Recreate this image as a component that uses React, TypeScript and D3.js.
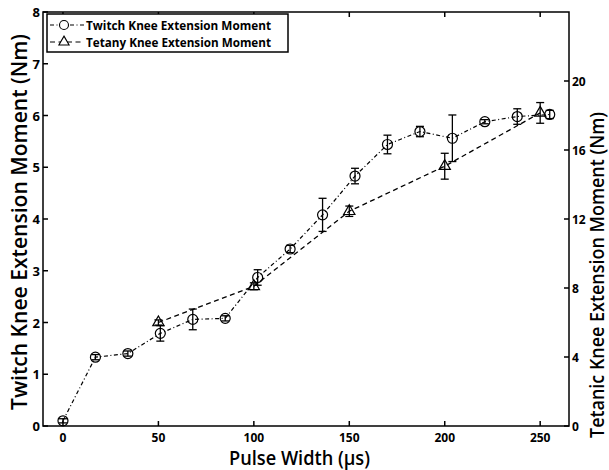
import React, { useEffect, useRef } from "react";
import * as d3 from "d3";

// twitch: circles, left axis
const twitchX = [0, 17, 34, 51, 68, 85, 102, 119, 136, 153, 170, 187, 204, 221, 238, 255];
const twitchY = [0.1, 1.33, 1.4, 1.79, 2.06, 2.08, 2.87, 3.42, 4.08, 4.83, 5.44, 5.69, 5.56, 5.88, 5.98, 6.02];
const twitchErr = [0.04, 0.05, 0.05, 0.15, 0.2, 0.05, 0.15, 0.07, 0.32, 0.15, 0.18, 0.1, 0.45, 0.04, 0.15, 0.08];

// tetany: triangles, right axis
const tetX = [50, 100, 150, 200, 250];
const tetY = [6.0, 8.1, 12.45, 15.06, 18.15];
const tetErr = [0.15, 0.2, 0.3, 0.75, 0.6];

const xTicks = [0, 50, 100, 150, 200, 250];
const leftTicks = [0, 1, 2, 3, 4, 5, 6, 7, 8];
const rightTicks = [0, 4, 8, 12, 16, 20];

const W = 609, H = 470;
const m = { left: 43, right: 40, top: 12, bottom: 44 };
const font = "'Open Sans', 'DejaVu Sans', sans-serif";

export default function App() {
    const ref = useRef<SVGSVGElement>(null);

    useEffect(() => {
        const svg = d3.select(ref.current);
        svg.selectAll("*").remove();

        const x = d3.scaleLinear().domain([-10.46, 265.1]).range([m.left, W - m.right]);
        const yL = d3.scaleLinear().domain([0, 8]).range([H - m.bottom, m.top]);
        const yR = d3.scaleLinear().domain([0, 24]).range([H - m.bottom, m.top]);

        const g = svg.append("g");

        // frame
        g.append("rect")
            .attr("x", m.left).attr("y", m.top)
            .attr("width", W - m.left - m.right).attr("height", H - m.top - m.bottom)
            .attr("fill", "none").attr("stroke", "#000").attr("stroke-width", 1.5);

        const tl = 5;
        // bottom + top ticks
        xTicks.forEach(t => {
            g.append("line").attr("x1", x(t)).attr("x2", x(t))
                .attr("y1", H - m.bottom).attr("y2", H - m.bottom - tl)
                .attr("stroke", "#000").attr("stroke-width", 1.5);
            g.append("line").attr("x1", x(t)).attr("x2", x(t))
                .attr("y1", m.top).attr("y2", m.top + tl)
                .attr("stroke", "#000").attr("stroke-width", 1.5);
            g.append("text").attr("x", x(t)).attr("y", H - m.bottom + 16)
                .attr("text-anchor", "middle").attr("font-size", 12).attr("font-weight", "bold")
                .attr("font-family", font).text(t);
        });
        leftTicks.forEach(t => {
            g.append("line").attr("x1", m.left).attr("x2", m.left + tl)
                .attr("y1", yL(t)).attr("y2", yL(t))
                .attr("stroke", "#000").attr("stroke-width", 1.5);
            g.append("text").attr("x", m.left - 3).attr("y", yL(t) + 5)
                .attr("text-anchor", "end").attr("font-size", 13).attr("font-weight", "bold")
                .attr("font-family", font).text(t);
        });
        rightTicks.forEach(t => {
            g.append("line").attr("x1", W - m.right).attr("x2", W - m.right - tl)
                .attr("y1", yR(t)).attr("y2", yR(t))
                .attr("stroke", "#000").attr("stroke-width", 1.5);
            g.append("text").attr("x", W - m.right + 3).attr("y", yR(t) + 5)
                .attr("text-anchor", "start").attr("font-size", 12).attr("font-weight", "bold")
                .attr("font-family", font).text(t);
        });

        // axis titles
        g.append("text").attr("x", 229).attr("y", 465)
            .attr("font-size", 19).attr("font-weight", 600)
            .attr("textLength", 141).attr("lengthAdjust", "spacingAndGlyphs")
            .attr("font-family", font).text("Pulse Width (µs)");
        g.append("text").attr("transform", `translate(27,410) rotate(-90)`)
            .attr("font-size", 21).attr("font-weight", 600)
            .attr("textLength", 376).attr("lengthAdjust", "spacingAndGlyphs")
            .attr("font-family", font).text("Twitch Knee Extension Moment (Nm)");
        g.append("text").attr("transform", `translate(604,438) rotate(-90)`)
            .attr("font-size", 19).attr("font-weight", 600)
            .attr("textLength", 326).attr("lengthAdjust", "spacingAndGlyphs")
            .attr("font-family", font).text("Tetanic Knee Extension Moment (Nm)");

        const cap = 4;
        const errBars = (xs: number[], ys: number[], es: number[], y: d3.ScaleLinear<number, number>) => {
            xs.forEach((xv, i) => {
                const px = x(xv), lo = y(ys[i] - es[i]), hi = y(ys[i] + es[i]);
                g.append("line").attr("x1", px).attr("x2", px).attr("y1", lo).attr("y2", hi)
                    .attr("stroke", "#000").attr("stroke-width", 1.3);
                [lo, hi].forEach(v => g.append("line").attr("x1", px - cap).attr("x2", px + cap)
                    .attr("y1", v).attr("y2", v).attr("stroke", "#000").attr("stroke-width", 1.3));
            });
        };

        // twitch series
        const lineT = d3.line<number>().x((_, i) => x(twitchX[i])).y(d => yL(d));
        g.append("path").attr("d", lineT(twitchY)).attr("fill", "none")
            .attr("stroke", "#000").attr("stroke-width", 1.2).attr("stroke-dasharray", "4,2.5,1,2.5");
        errBars(twitchX, twitchY, twitchErr, yL);
        twitchX.forEach((xv, i) => {
            g.append("circle").attr("cx", x(xv)).attr("cy", yL(twitchY[i])).attr("r", 5)
                .attr("fill", "none").attr("stroke", "#000").attr("stroke-width", 1.2);
        });

        // tetany series
        const lineR = d3.line<number>().x((_, i) => x(tetX[i])).y(d => yR(d));
        g.append("path").attr("d", lineR(tetY)).attr("fill", "none")
            .attr("stroke", "#000").attr("stroke-width", 1.3).attr("stroke-dasharray", "5,3.5");
        errBars(tetX, tetY, tetErr, yR);
        const tri = d3.symbol().type(d3.symbolTriangle).size(55);
        tetX.forEach((xv, i) => {
            g.append("path").attr("d", tri()).attr("transform", `translate(${x(xv)},${yR(tetY[i])})`)
                .attr("fill", "none").attr("stroke", "#000").attr("stroke-width", 1.2);
        });

        // legend
        const lg = g.append("g");
        lg.append("rect").attr("x", 47).attr("y", 14).attr("width", 241).attr("height", 38)
            .attr("fill", "#fff").attr("stroke", "#000").attr("stroke-width", 1.5);
        const rows = [
            { label: "Twitch Knee Extension Moment", dash: "4,2.5,1,2.5", sym: "c" },
            { label: "Tetany Knee Extension Moment", dash: "5,3.5", sym: "t" },
        ];
        rows.forEach((r, i) => {
            const cy = 25 + i * 17;
            lg.append("line").attr("x1", 50).attr("x2", 84).attr("y1", cy).attr("y2", cy)
                .attr("stroke", "#000").attr("stroke-width", 1.2).attr("stroke-dasharray", r.dash);
            if (r.sym === "c") {
                lg.append("circle").attr("cx", 64).attr("cy", cy).attr("r", 4.5)
                    .attr("fill", "#fff").attr("stroke", "#000").attr("stroke-width", 1.1);
            } else {
                lg.append("path").attr("d", d3.symbol().type(d3.symbolTriangle).size(45)())
                    .attr("transform", `translate(64,${cy})`)
                    .attr("fill", "#fff").attr("stroke", "#000").attr("stroke-width", 1.1);
            }
            lg.append("text").attr("x", 86).attr("y", cy + 5).attr("font-size", 13)
                .attr("textLength", 185).attr("lengthAdjust", "spacingAndGlyphs")
                .attr("font-weight", "bold").attr("font-family", font).text(r.label);
        });
    }, []);

    return <svg ref={ref} width={W} height={H} style={{ position: "absolute", left: 0, top: 0 }} />;
}
